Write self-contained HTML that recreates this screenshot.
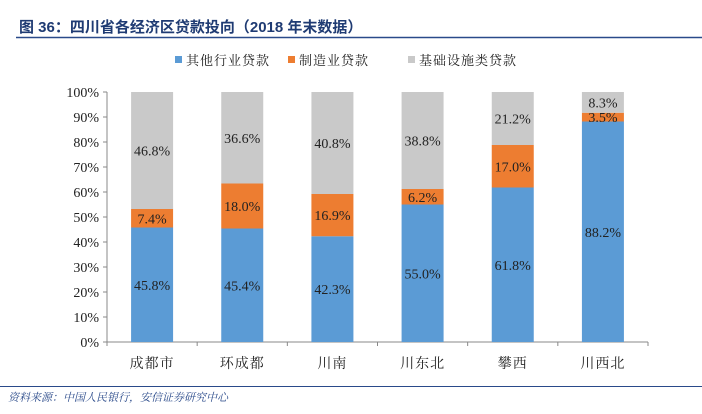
<!DOCTYPE html>
<html><head><meta charset="utf-8"><style>
body{margin:0;width:702px;height:409px;background:#fff;overflow:hidden;font-family:"Liberation Serif","Noto Serif CJK SC",serif}
</style></head><body>
<svg width="702" height="409" xmlns="http://www.w3.org/2000/svg">
<text x="19" y="32" font-family="Liberation Sans,'Noto Sans CJK SC',sans-serif" font-weight="bold" font-size="15" fill="#1f3b73">图 36：四川省各经济区贷款投向（2018 年末数据）</text>
<line x1="16" y1="37.5" x2="702" y2="37.5" stroke="#2a4a8a" stroke-width="1.5"/>
<g id="legend" font-family="'Noto Serif CJK SC',serif" font-size="13" fill="#222" letter-spacing="1"></g>
<g id="plot"></g>
<line x1="0" y1="386.5" x2="702" y2="386.5" stroke="#2a4a8a" stroke-width="1"/>
<text x="8" y="401" font-family="'Noto Serif CJK SC',serif" font-style="italic" font-size="11" fill="#2a4a8a">资料来源：中国人民银行，安信证券研究中心</text>
</svg>
<script>
const categories=["成都市","环成都","川南","川东北","攀西","川西北"];
const seriesNames=["其他行业贷款","制造业贷款","基础设施类贷款"];
const other=[45.8,45.4,42.3,55.0,61.8,88.2];
const manuf=[7.4,18.0,16.9,6.2,17.0,3.5];
const infra=[46.8,36.6,40.8,38.8,21.2,8.3];
const yTicks=[0,10,20,30,40,50,60,70,80,90,100];
const colors=["#5b9bd5","#ed7d31","#c9c9c9"];
const NS="http://www.w3.org/2000/svg";
const x0=107,x1=648,y0=342,y1=92;
const bw=(x1-x0)/categories.length;
const y=v=>y0-(v/100)*(y0-y1);
const cx=i=>x0+bw*(i+0.5);
const plot=document.getElementById('plot');
function el(t,a,p){const e=document.createElementNS(NS,t);for(const k in a)e.setAttribute(k,a[k]);(p||plot).appendChild(e);return e;}
let ax=el('line',{x1:x0,y1:y1,x2:x0,y2:y0,stroke:'#888'});


let bx=el('line',{x1:x0,y1:y0,x2:x1,y2:y0,stroke:'#888'});


yTicks.forEach(t=>{
 el('line',{x1:x0-4,y1:y(t),x2:x0,y2:y(t),stroke:'#888'});
 const tx=el('text',{x:x0-8,y:y(t)+5,'text-anchor':'end','font-size':14,fill:'#222'});
 tx.textContent=t+'%';
 
 
});
for(let i=0;i<=categories.length;i++){el('line',{x1:x0+bw*i,y1:y0,x2:x0+bw*i,y2:y0+4,stroke:'#888'});}
const series=[other,manuf,infra];
categories.forEach((c,i)=>{
 let base=0;
 series.forEach((s,k)=>{
  const v=s[i];
  const r=el('rect',{x:cx(i)-21,y:y(base+v),width:42,height:y(base)-y(base+v),fill:colors[k]});
  
  
  const t=el('text',{x:cx(i),y:(y(base)+y(base+v))/2+5,'text-anchor':'middle','font-size':14,fill:'#222'});
  t.textContent=v.toFixed(1)+'%';
  
  
  base+=v;
 });
 const l=el('text',{x:cx(i),y:y0+26,'text-anchor':'middle','font-size':14,fill:'#222','font-family':"'Noto Serif CJK SC',serif",'letter-spacing':1});
 l.textContent=c;
 
 
});
const lg=document.getElementById('legend');
const lx=[175,288,408];
seriesNames.forEach((n,k)=>{
 const r=el('rect',{x:lx[k],y:56,width:7,height:7,fill:colors[k]},lg);
 
 
 const t=el('text',{x:lx[k]+11,y:65},lg);
 t.textContent=n;
 
 
});
</script>
</body></html>
